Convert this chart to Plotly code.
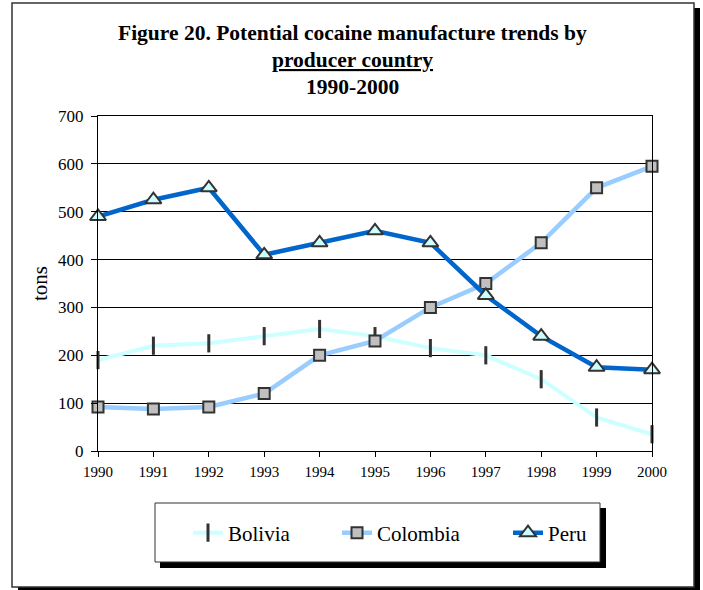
import plotly.graph_objects as go

years = [1990, 1991, 1992, 1993, 1994, 1995, 1996, 1997, 1998, 1999, 2000]
bolivia = [190, 220, 225, 240, 255, 240, 215, 200, 150, 70, 35]
colombia = [92, 88, 92, 120, 200, 230, 300, 350, 435, 550, 595]
peru = [490, 525, 550, 410, 435, 460, 435, 325, 240, 175, 170]
y_ticks = [0, 100, 200, 300, 400, 500, 600, 700]

W, H = 703, 590
L, R, T, B = 98, 652, 116, 451
SERIF = "Liberation Serif"


def px(x):
    return (x - L) / (R - L)


def py(y):
    return (B - y) / (B - T)


fig = go.Figure()
fig.add_trace(go.Scatter(
    x=years, y=bolivia, name="Bolivia", mode="lines+markers", legend="legend",
    line=dict(color="#CCFFFF", width=4),
    marker=dict(symbol="line-ns", size=13, line=dict(color="#333333", width=3)),
    cliponaxis=False))
fig.add_trace(go.Scatter(
    x=years, y=colombia, name="Colombia", mode="lines+markers", legend="legend2",
    line=dict(color="#99CCFF", width=4.5),
    marker=dict(symbol="square", size=11, color="#C0C0C0", line=dict(color="#333333", width=2)),
    cliponaxis=False))
fig.add_trace(go.Scatter(
    x=years, y=peru, name="Peru", mode="lines+markers", legend="legend3",
    line=dict(color="#0066CC", width=4.5),
    marker=dict(symbol="triangle-up", size=14, color="#CCFFFF", line=dict(color="#333333", width=2)),
    cliponaxis=False))

shapes = [
    dict(type="rect", xref="paper", yref="paper", x0=px(18), x1=px(700), y0=py(590), y1=py(8),
         fillcolor="black", line=dict(width=0), layer="below"),
    dict(type="rect", xref="paper", yref="paper", x0=px(12), x1=px(694), y0=py(587), y1=py(3),
         fillcolor="white", line=dict(color="#333333", width=1.5), layer="below"),
    dict(type="rect", xref="paper", yref="paper", x0=px(160), x1=px(606), y0=py(568), y1=py(508),
         fillcolor="black", line=dict(width=0), layer="below"),
    dict(type="rect", xref="paper", yref="paper", x0=px(155), x1=px(600), y0=py(562), y1=py(503),
         fillcolor="white", line=dict(color="#333333", width=1), layer="below"),
]

title_font = dict(family=SERIF, size=21.5, color="black")
annotations = [
    dict(text="<b>Figure 20. Potential cocaine manufacture trends by</b>", x=px(352), y=py(33)),
    dict(text="<b><u>producer country</u></b>", x=px(352), y=py(60)),
    dict(text="<b>1990-2000</b>", x=px(352), y=py(87)),
]
for a in annotations:
    a.update(xref="paper", yref="paper", xanchor="center", yanchor="middle",
             showarrow=False, font=title_font)

leg_common = dict(orientation="h", bgcolor="rgba(0,0,0,0)", borderwidth=0,
                  font=dict(family=SERIF, size=21, color="black"),
                  xanchor="left", yanchor="middle", y=py(533))

fig.update_layout(
    width=W, height=H,
    margin=dict(l=L, r=W - R, t=T, b=H - B),
    paper_bgcolor="white", plot_bgcolor="white",
    shapes=shapes, annotations=annotations,
    legend=dict(x=px(188), **leg_common),
    legend2=dict(x=px(337), **leg_common),
    legend3=dict(x=px(508), **leg_common),
    xaxis=dict(range=[1990, 2000], tickmode="array", tickvals=years,
               ticktext=[str(y) for y in years], showgrid=False, zeroline=False,
               showline=True, linecolor="black", linewidth=1, mirror=True,
               ticks="outside", ticklen=5, tickcolor="black",
               tickfont=dict(family=SERIF, size=15, color="black"),
               ticklabelstandoff=2),
    yaxis=dict(range=[0, 700], tickmode="array", tickvals=y_ticks,
               showgrid=True, gridcolor="black", gridwidth=1, zeroline=False,
               showline=True, linecolor="black", linewidth=1, mirror=True,
               ticks="outside", ticklen=6, tickcolor="black",
               tickfont=dict(family=SERIF, size=17, color="black"),
               ticklabelstandoff=4,
               title=dict(text="tons", font=dict(family=SERIF, size=21, color="black"),
                          standoff=4)),
    showlegend=True,
)

fig.write_html("out.html", config={"displayModeBar": False},
               post_script="document.body.style.margin='0';document.body.style.overflow='hidden';")
